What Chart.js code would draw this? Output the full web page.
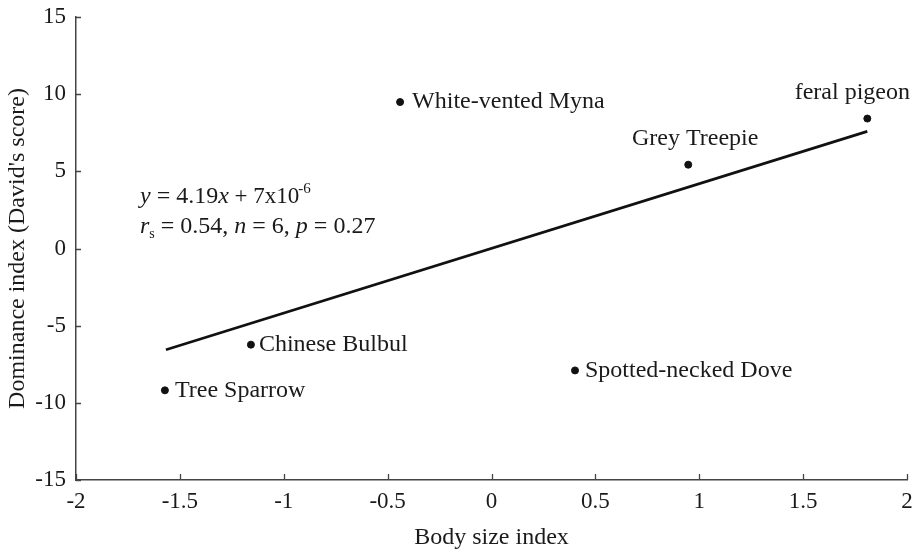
<!DOCTYPE html>
<html>
<head>
<meta charset="utf-8">
<title>Dominance vs body size</title>
<script src="https://cdn.jsdelivr.net/npm/chart.js@4.4.0/dist/chart.umd.min.js"></script>
<style>
  html, body { margin: 0; padding: 0; background: #fff; }
  #wrap { width: 916px; height: 550px; }
</style>
</head>
<body>
<div id="wrap"><canvas id="scatterChart" width="916" height="550"></canvas></div>
<script>
// Species data
const species = ['White-vented Myna', 'Grey Treepie', 'feral pigeon', 'Chinese Bulbul', 'Tree Sparrow', 'Spotted-necked Dove'];
const bodySize = [-0.44, 0.947, 1.809, -1.158, -1.572, 0.402];
const dominance = [9.49, 5.43, 8.42, -6.23, -9.19, -7.9];

// Fitted line end points
const fitX = [-1.567, 1.809];
const fitY = [-6.56, 7.59];

// Axis ticks
const xTicks = [-2, -1.5, -1, -0.5, 0, 0.5, 1, 1.5, 2];
const yTicks = [-15, -10, -5, 0, 5, 10, 15];

// name placement relative to each dot (dx, dy, align)
const labelPlace = [
  [12, 0, 'left'], [7, -26, 'center'], [-15, -26, 'center'],
  [8, 0, 'left'], [10, 0, 'left'], [10, 0, 'left']
];

const SERIF = "'Liberation Serif', 'Times New Roman', serif";
const INK = '#1a1a1a';

// Inward tick marks, point names and the regression note
const extrasPlugin = {
  id: 'extras',
  afterDraw(chart) {
    const { ctx, scales: { x, y } } = chart;
    ctx.save();
    ctx.strokeStyle = '#444';
    ctx.lineWidth = 1.3;
    ctx.beginPath();
    xTicks.forEach(v => {
      const px = Math.round(x.getPixelForValue(v)) + 0.5;
      ctx.moveTo(px, y.bottom);
      ctx.lineTo(px, y.bottom - 6);
    });
    yTicks.forEach(v => {
      const py = Math.round(y.getPixelForValue(v)) + 0.5;
      ctx.moveTo(x.left, py);
      ctx.lineTo(x.left + 5, py);
    });
    ctx.stroke();

    // species names
    ctx.fillStyle = INK;
    ctx.font = '24px ' + SERIF;
    ctx.textBaseline = 'middle';
    const meta = chart.getDatasetMeta(1);
    meta.data.forEach((pt, i) => {
      const [dx, dy, align] = labelPlace[i];
      ctx.textAlign = align;
      ctx.fillText(species[i], pt.x + dx, pt.y + dy);
    });

    // regression note with italics, superscript and subscript
    ctx.textAlign = 'left';
    ctx.textBaseline = 'alphabetic';
    const runs = (parts, x0, base) => {
      let cx = x0;
      parts.forEach(([txt, style, shift, size, gap]) => {
        ctx.font = (style === 'i' ? 'italic ' : '') + (size || 24) + 'px ' + SERIF;
        cx += gap || 0;
        ctx.fillText(txt, cx, base + (shift || 0));
        cx += ctx.measureText(txt).width;
      });
    };
    runs([
      ['y', 'i'], [' = 4.19'], ['x', 'i'], [' + 7x10', '', 0, 23], ['-6', '', -10, 15, -1]
    ], 140, 203);
    runs([
      ['r', 'i'], ['s', '', 5, 14], [' = 0.54, '], ['n', 'i'], [' = 6, '], ['p', 'i'], [' = 0.27']
    ], 140, 233);
    ctx.restore();
  }
};

new Chart(document.getElementById('scatterChart'), {
  type: 'scatter',
  data: {
    datasets: [
      {
        type: 'line',
        label: 'fit',
        data: fitX.map((v, i) => ({ x: v, y: fitY[i] })),
        borderColor: '#111',
        borderWidth: 2.7,
        pointRadius: 0,
        fill: false
      },
      {
        label: 'species',
        data: bodySize.map((v, i) => ({ x: v, y: dominance[i] })),
        backgroundColor: '#111',
        borderColor: '#111',
        pointRadius: 3.5,
        pointHoverRadius: 3.5
      }
    ]
  },
  options: {
    responsive: false,
    animation: false,
    layout: { padding: { top: 17, right: 9, left: 0, bottom: 0 } },
    plugins: { legend: { display: false }, tooltip: { enabled: false } },
    scales: {
      x: {
        type: 'linear', min: -2, max: 2,
        afterFit: s => { s.height = 70; s.paddingLeft = 0; s.paddingRight = 0; },
        afterBuildTicks: s => { s.ticks = xTicks.map(v => ({ value: v })); },
        grid: { display: false, drawTicks: false },
        border: { display: true, color: '#444', width: 1.5 },
        ticks: { color: INK, font: { family: SERIF, size: 23 }, padding: 8, callback: v => String(v) },
        title: { display: true, text: 'Body size index', color: INK, font: { family: SERIF, size: 24 }, padding: { top: 0, bottom: -2 } }
      },
      y: {
        type: 'linear', min: -15, max: 15,
        afterFit: s => { s.width = 76; s.paddingTop = 0; s.paddingBottom = 0; },
        afterBuildTicks: s => { s.ticks = yTicks.map(v => ({ value: v })); },
        grid: { display: false, drawTicks: false },
        border: { display: true, color: '#444', width: 1.5 },
        ticks: { color: INK, font: { family: SERIF, size: 23 }, padding: 10, callback: v => String(v) },
        title: { display: true, text: "Dominance index (David's score)", color: INK, font: { family: SERIF, size: 24 }, padding: { top: 3, bottom: 0 } }
      }
    }
  },
  plugins: [extrasPlugin]
});
</script>
</body>
</html>
